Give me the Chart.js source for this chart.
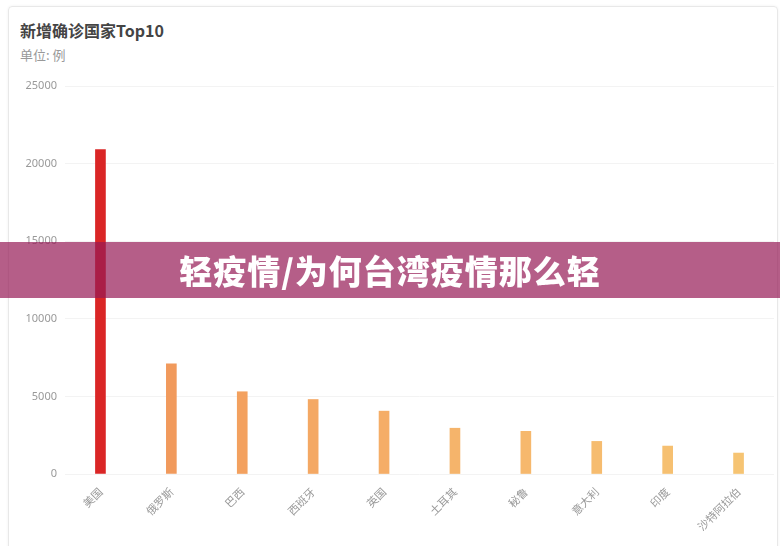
<!DOCTYPE html>
<html>
<head>
<meta charset="utf-8">
<script src="https://cdn.jsdelivr.net/npm/chart.js@4"></script>
<style>
    html, body { margin: 0; padding: 0; background: #fff; }
    body { width: 780px; height: 546px; position: relative; overflow: hidden; font-family: "Noto Sans CJK SC", "Noto Sans", sans-serif; }
    .card { position: absolute; left: 8px; top: 6px; width: 768px; height: 560px; border: 1px solid #e8e8e8; border-radius: 4px; box-shadow: 0 0 3px rgba(0,0,0,0.06); }
    .title { position: absolute; left: 20px; top: 18px; font-size: 16px; font-weight: bold; color: #444; line-height: 24px; }
    .sub { position: absolute; left: 20px; top: 46px; font-size: 13px; color: #999; line-height: 18px; }
    #wrap { position: absolute; left: 0; top: 0; width: 780px; height: 546px; }
    .banner { position: absolute; left: 0; top: 242px; width: 780px; height: 56px; background: rgba(150, 25, 85, 0.7);
        color: #fff; font-size: 33px; font-weight: 900; text-align: center; line-height: 56px; letter-spacing: 1px; }
</style>
</head>
<body>
<div class="card"></div>
<div class="title">新增确诊国家Top10</div>
<div class="sub">单位: 例</div>
<div id="wrap"><canvas id="myBarChart"></canvas></div>
<div class="banner">轻疫情/为何台湾疫情那么轻</div>

<script>
const countries = ['美国', '俄罗斯', '巴西', '西班牙', '英国', '土耳其', '秘鲁', '意大利', '印度', '沙特阿拉伯'];
const newCases = [20900, 7100, 5300, 4800, 4050, 2950, 2750, 2100, 1800, 1350];
const barColors = ['#da2626', '#f19a5c', '#f3a15f', '#f4a864', '#f5ad67', '#f5b46b', '#f6b86d', '#f6bc6f', '#f6c071', '#f6c473'];
const yTicks = [0, 5000, 10000, 15000, 20000, 25000];

// Create the bar chart
const ctx = document.getElementById('myBarChart').getContext('2d');
new Chart(ctx, {
    type: 'bar',
    data: {
        labels: countries,
        datasets: [{
            label: '新增确诊',
            backgroundColor: barColors,
            data: newCases,
            barThickness: 10
        }]
    },
    options: {
        responsive: true,
        maintainAspectRatio: false,
        animation: false,
        layout: { padding: { top: 86, right: 6, left: 0, bottom: 0 } },
        plugins: {
            legend: { display: false },
            tooltip: { enabled: false }
        },
        scales: {
            x: {
                grid: { display: false },
                border: { display: false },
                ticks: {
                    color: '#999',
                    font: { size: 11, family: 'Noto Sans CJK SC' },
                    minRotation: 45,
                    maxRotation: 45,
                    autoSkip: false
                },
                afterFit: scale => { scale.height = 72; }
            },
            y: {
                min: 0,
                max: 25000,
                grid: { color: '#f3f3f3', drawTicks: false },
                border: { display: false },
                afterBuildTicks: scale => { scale.ticks = yTicks.map(v => ({ value: v })); },
                ticks: {
                    color: '#999',
                    padding: 8,
                    font: { size: 11, family: 'Noto Sans' },
                    callback: value => String(value)
                },
                afterFit: scale => { scale.width = 65; }
            }
        }
    }
});
</script>
</body>
</html>
